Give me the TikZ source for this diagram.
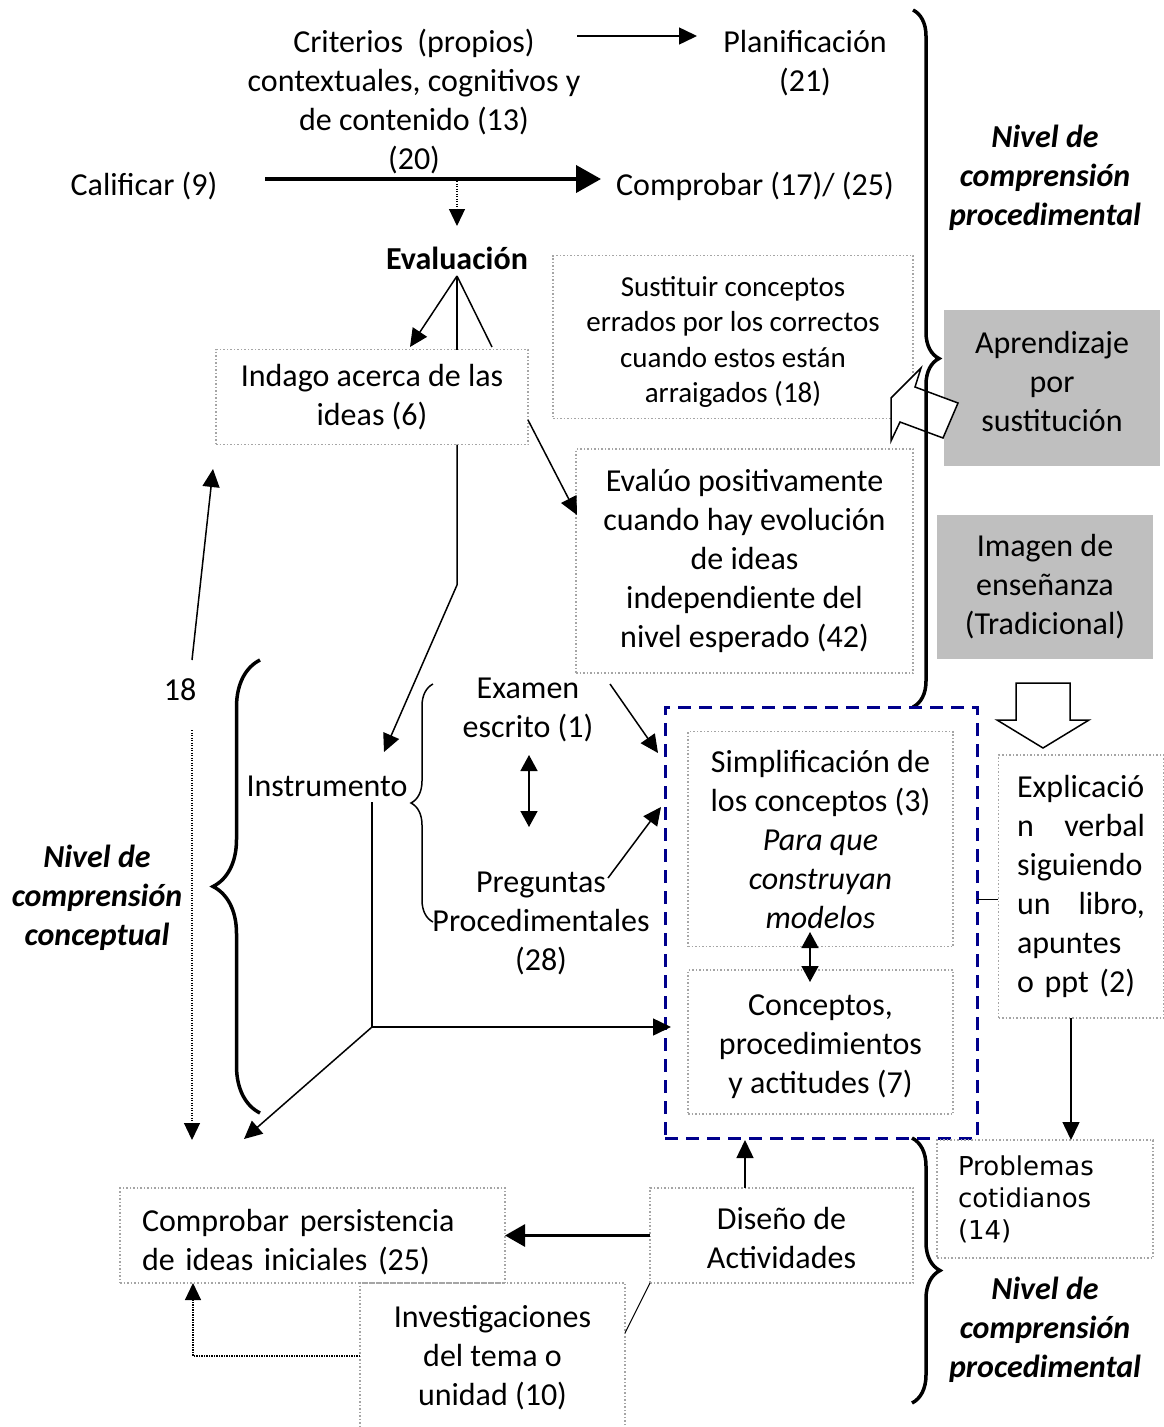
\documentclass[tikz,border=0pt]{standalone}
\usepackage{fontspec}
\setmainfont{Carlito}
\newfontfamily\verdfont{DejaVu Sans}
\usetikzlibrary{arrows.meta,decorations.pathreplacing}
\definecolor{dotgray}{RGB}{165,165,165}
\definecolor{boxfill}{RGB}{191,191,191}
\definecolor{navyb}{RGB}{0,0,140}
\begin{document}
\begin{tikzpicture}[x=1pt,y=-1pt,
  every node/.style={inner sep=0pt,outer sep=0pt},
  t/.style={font=\fontsize{32}{39}\selectfont,align=center},
  ts/.style={font=\fontsize{29}{35.5}\selectfont,align=center},
  tb/.style={font=\fontsize{32}{39}\selectfont\bfseries,align=center},
  tbi/.style={font=\fontsize{32}{39}\selectfont\bfseries\itshape,align=center},
  dbox/.style={draw=dotgray,line width=1.5pt,dash pattern=on 1.5pt off 2pt},
  gbox/.style={fill=boxfill},
  conn/.style={line width=1.5pt},
  arr/.style={conn,-{Triangle[length=18pt,width=17pt]}},
  darr/.style={conn,{Triangle[length=16pt,width=17pt]}-{Triangle[length=16pt,width=17pt]}},
  dotarr/.style={line width=1.2pt,dash pattern=on 1.2pt off 1.3pt,-{Triangle[length=17pt,width=16pt]}},
  brc/.style={decorate,decoration={brace,amplitude=#1,aspect=0.5},line width=3.5pt},
  blockarr/.style={draw=black,fill=white,line width=1.5pt,line join=miter},
]
\useasboundingbox (0,0) rectangle (1164,1427);
\fill[white] (0,0) rectangle (1164,1427);

% ---------- top texts ----------
\node[t] (crit) at (414,102) {Criterios\ \ (propios)\\contextuales, cognitivos y\\de contenido (13)\\(20)};
\node[t] (plan) at (805,63) {Planificación\\(21)};
\node[t] (calif) at (144,186) {Calificar (9)};
\node[t] (compr) at (755,186) {Comprobar (17)/ (25)};
\node[tb] (eval) at (457,258) {Evaluación};
\node[tbi] (niv1) at (1045,178) {Nivel de\\comprensión\\procedimental};

\coordinate (a1) at (577,36);
\coordinate (a2) at (697,36);
\draw[arr] (a1) -- (a2);
\coordinate (b1) at (265,179);
\coordinate (b2) at (601,179);
\draw[line width=4pt,-{Triangle[length=25pt,width=27pt]}] (b1) -- (b2);
\coordinate (b3) at (457,181);
\coordinate (b4) at (457,226);
\draw[dotarr] (b3) -- (b4);

% ---------- boxes upper ----------
\node[dbox,t,minimum width=312pt,minimum height=95pt] (indago) at (372,397) {Indago acerca de las\\ideas (6)};
\node[dbox,ts,minimum width=360pt,minimum height=163pt] (sust) at (733,337) {\rule{0pt}{30pt}Sustituir conceptos\\errados por los correctos\\cuando estos están\\arraigados (18)};
\node[dbox,t,minimum width=337pt,minimum height=224pt] (evalu) at (744.5,561) {Evalúo positivamente\\cuando hay evolución\\de ideas\\independiente del\\nivel esperado (42)};

\node[gbox,minimum width=216pt,minimum height=156pt] (apr) at (1052,388) {};
\node[t] (aprt) at (1052,382) {Aprendizaje\\por\\sustitución};
\node[gbox,t,minimum width=216pt,minimum height=144pt] (imag) at (1045,587) {Imagen de\\enseñanza\\(Tradicional)};

\draw[blockarr] (921,368) -- (891,398) -- (891,441) -- (900,422) -- (943,438) -- (958,403) -- (915,387) -- cycle;
\draw[brc=26pt] (913,10) -- (913,707);

\draw[blockarr] (1016,683) -- (1070,683) -- (1070,720) -- (1089,720) -- (1043,748) -- (997,720) -- (1016,720) -- cycle;

% Evaluacion connectors
\coordinate (e0) at (457,276);
\coordinate (e1) at (410,347);
\coordinate (e2) at (492,347);
\draw[arr] (e0) -- (e1);
\draw[conn] (e0) -- (indago.north -| e0);
\draw[conn] (e0) -- (e2);

% ---------- middle ----------
\node[draw=navyb,line width=3pt,dash pattern=on 13pt off 8pt,minimum width=312pt,minimum height=431pt] (dbx) at (821,922.5) {};
\node[dbox,t,minimum width=265pt,minimum height=215pt] (simp) at (820.5,839) {Simplificación de\\los conceptos (3)\\\textit{Para que}\\\textit{construyan}\\\textit{modelos}};
\node[dbox,t,minimum width=265pt,minimum height=144pt] (conc) at (820.5,1042) {\rule{0pt}{30pt}Conceptos,\\procedimientos\\y actitudes (7)};
\coordinate (s1) at (810,932);
\coordinate (s2) at (810,982);
\draw[darr] (s1) -- (s2);

\node[dbox,t,align=left,text width=128pt,minimum width=165pt,minimum height=263pt] (expl) at (1081,886.5) {\mbox{Explicació}\\\makebox[128pt][s]{n\hfill verbal}\\\mbox{siguiendo}\\\makebox[128pt][s]{un\hfill libro,}\\\mbox{apuntes}\\\mbox{o ppt (2)}};
\coordinate (x1) at (998,899);
\coordinate (x2) at (977,899);
\draw[line width=1pt] (x1) -- (x2);

\node[dbox,font=\verdfont\fontsize{26}{32}\selectfont,align=left,text width=174pt,minimum width=216pt,minimum height=118pt] (prob) at (1045,1199) {\mbox{Problemas}\\\mbox{cotidianos}\\\mbox{(14)}};
\coordinate (p1) at (1071,1018);
\coordinate (p2) at (1071,1140);
\draw[arr] (p1) -- (p2);

\draw[brc=28pt] (912,1138) -- (912,1403);
\node[tbi] (niv2) at (1045,1330) {Nivel de\\comprensión\\procedimental};

% ---------- left ----------
\node[t] (n18) at (180,690) {18};
\node[tbi] (niv3) at (97,898) {Nivel de\\comprensión\\conceptual};
\draw[brc=47pt] (260,1113) -- (260,660);
\node[t] (instr) at (327,786) {Instrumento};
\draw[brc=22pt,line width=1.5pt] (433,922) -- (433,684);
\node[t] (exam) at (528,710) {Examen\\escrito (1)};
\node[t] (preg) at (541,923) {Preguntas\\Procedimentales\\(28)};
\coordinate (m1) at (529,755);
\coordinate (m2) at (529,827);
\draw[darr] (m1) -- (m2);

\coordinate (i1) at (457,585);
\coordinate (i2) at (384,752);
\draw[arr] (indago.south -| e0) -- (i1) -- (i2);
\coordinate (i3) at (528,420);
\coordinate (i4) at (577,515);
\draw[arr] (i3) -- (i4);
\coordinate (v1) at (610,684);
\coordinate (v2) at (658,753);
\draw[arr] (v1) -- (v2);
\coordinate (q1) at (608,878);
\coordinate (q2) at (661,807);
\draw[arr] (q1) -- (q2);

\coordinate (r1) at (372,802);
\coordinate (r2) at (372,1027);
\coordinate (r3) at (671,1027);
\coordinate (r4) at (244,1139);
\draw[conn] (r1) -- (r2);
\draw[arr] (r2) -- (r3);
\draw[arr] (r2) -- (r4);

\coordinate (u1) at (192,660);
\coordinate (u2) at (213,469);
\draw[arr] (u1) -- (u2);
\coordinate (u3) at (192,730);
\coordinate (u4) at (192,1140);
\draw[dotarr] (u3) -- (u4);

% ---------- bottom ----------
\node[dbox,t,align=left,text width=341pt,minimum width=385pt,minimum height=95pt] (persist) at (312.5,1235.5) {\mbox{\rule{0pt}{36pt}Comprobar persistencia}\\\mbox{de ideas iniciales (25)}};
\node[dbox,t,minimum width=263pt,minimum height=95pt] (dis) at (781.5,1235.5) {\rule{0pt}{28pt}Diseño de\\Actividades};
\node[dbox,t,minimum width=265pt,minimum height=150pt] (inv) at (492.5,1358) {Investigaciones\\del tema o\\unidad (10)};

\draw[line width=3pt,-{Triangle[length=20pt,width=22pt]}] (dis.west) -- (persist.east);
\coordinate (d1) at (745,1188);
\coordinate (d2) at (745,1140);
\draw[arr] (d1) -- (d2);
\coordinate (d3) at (625,1333);
\draw[line width=1pt] (dis.south west) -- (d3);
\coordinate (w1) at (360,1356);
\coordinate (w2) at (193,1356);
\coordinate (w3) at (193,1283);
\draw[dotarr] (w1) -- (w2) -- (w3);
\end{tikzpicture}
\end{document}
